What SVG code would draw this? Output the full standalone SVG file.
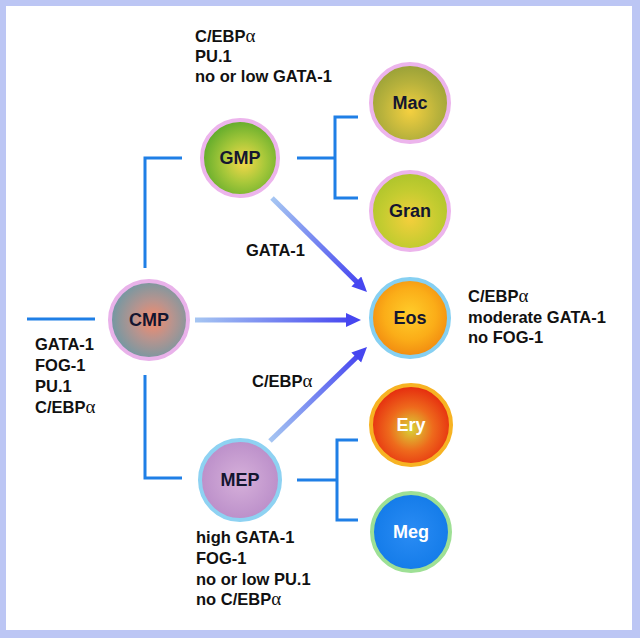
<svg xmlns="http://www.w3.org/2000/svg" width="640" height="638" viewBox="0 0 640 638">
<defs>
<style>
.lbl{font-family:"Liberation Sans",Arial,sans-serif;font-weight:bold;font-size:16.5px;fill:#111;}
.a{font-family:"Liberation Serif","Times New Roman",serif;font-weight:normal;font-size:19px;}
.nt{font-family:"Liberation Sans",Arial,sans-serif;font-weight:bold;font-size:18px;fill:#141630;text-anchor:middle;}
.wt{fill:#ffffff;}
.con{stroke:#1f7fe6;stroke-width:3;fill:none;}
.arr{stroke-width:5;fill:none;marker-end:url(#ah);}
</style>
<marker id="ah" markerUnits="userSpaceOnUse" markerWidth="16" markerHeight="16" refX="3" refY="7" orient="auto">
<path d="M0,0 L15,7 L0,14 z" fill="#4646f0"/>
</marker>
<radialGradient id="gCMP" cx="0.55" cy="0.5" r="0.55"><stop offset="0" stop-color="#f78a6a"/><stop offset="0.45" stop-color="#b8948e"/><stop offset="1" stop-color="#6f98a4"/></radialGradient>
<radialGradient id="gGMP" cx="0.55" cy="0.55" r="0.55"><stop offset="0" stop-color="#f7d84a"/><stop offset="0.5" stop-color="#a8c83a"/><stop offset="1" stop-color="#62ac2c"/></radialGradient>
<radialGradient id="gMac" cx="0.5" cy="0.6" r="0.6"><stop offset="0" stop-color="#f5d040"/><stop offset="0.6" stop-color="#b8b23c"/><stop offset="1" stop-color="#97a038"/></radialGradient>
<radialGradient id="gGran" cx="0.5" cy="0.6" r="0.6"><stop offset="0" stop-color="#f4cf3c"/><stop offset="0.6" stop-color="#c4cc30"/><stop offset="1" stop-color="#acc42c"/></radialGradient>
<radialGradient id="gEos" cx="0.5" cy="0.45" r="0.55"><stop offset="0" stop-color="#ffcd2a"/><stop offset="0.6" stop-color="#fbad18"/><stop offset="1" stop-color="#f18a10"/></radialGradient>
<radialGradient id="gEry" cx="0.5" cy="0.55" r="0.55"><stop offset="0" stop-color="#d8d438"/><stop offset="0.5" stop-color="#ee6a1c"/><stop offset="1" stop-color="#e5280e"/></radialGradient>
<radialGradient id="gMeg" cx="0.5" cy="0.5" r="0.55"><stop offset="0" stop-color="#2a8cf4"/><stop offset="1" stop-color="#127ae8"/></radialGradient>
<radialGradient id="gMEP" cx="0.5" cy="0.5" r="0.55"><stop offset="0" stop-color="#d6b0da"/><stop offset="1" stop-color="#b98cc8"/></radialGradient>
<linearGradient id="l1" gradientUnits="userSpaceOnUse" x1="272" y1="198" x2="358" y2="284"><stop offset="0" stop-color="#a6c6f2"/><stop offset="1" stop-color="#4848f0"/></linearGradient>
<linearGradient id="l2" gradientUnits="userSpaceOnUse" x1="195" y1="320" x2="349" y2="320"><stop offset="0" stop-color="#a6c6f2"/><stop offset="1" stop-color="#4848f0"/></linearGradient>
<linearGradient id="l3" gradientUnits="userSpaceOnUse" x1="270" y1="441" x2="358" y2="355"><stop offset="0" stop-color="#a6c6f2"/><stop offset="1" stop-color="#4848f0"/></linearGradient>
</defs>
<rect x="0" y="0" width="640" height="638" fill="#bcc6f4"/>
<rect x="6" y="6" width="626" height="624" fill="#ffffff"/>

<g id="connectors">
<polyline class="con" points="27,319 95,319"/>
<polyline class="con" points="182,158 145,158 145,268"/>
<polyline class="con" points="145,375 145,478 182,478"/>
<polyline class="con" points="297,158 335,158"/>
<polyline class="con" points="358,117 335,117 335,198 358,198"/>
<polyline class="con" points="297,480 337,480"/>
<polyline class="con" points="358,440 337,440 337,520 358,520"/>
<line class="arr" x1="272" y1="198" x2="358.5" y2="283.6" stroke="url(#l1)"/>
<line class="arr" x1="195" y1="320" x2="349" y2="320" stroke="url(#l2)"/>
<line class="arr" x1="270" y1="441" x2="358.4" y2="355.4" stroke="url(#l3)"/>
<text class="lbl" x="246" y="256">GATA-1</text>
<text class="lbl" x="252" y="387">C/EBP<tspan class="a">α</tspan></text>
</g>

<g id="CMP">
<circle cx="149" cy="320" r="39" fill="url(#gCMP)" stroke="#e9b2ea" stroke-width="4"/>
<text class="nt" x="149" y="326">CMP</text>
<text class="lbl" x="35" y="350">GATA-1</text>
<text class="lbl" x="35" y="371">FOG-1</text>
<text class="lbl" x="35" y="392">PU.1</text>
<text class="lbl" x="35" y="413">C/EBP<tspan class="a">α</tspan></text>
</g>

<g id="GMP">
<circle cx="240" cy="158" r="38" fill="url(#gGMP)" stroke="#ecb4ec" stroke-width="4"/>
<text class="nt" x="240" y="164">GMP</text>
<text class="lbl" x="195" y="42">C/EBP<tspan class="a">α</tspan></text>
<text class="lbl" x="195" y="62">PU.1</text>
<text class="lbl" x="195" y="82">no or low GATA-1</text>
</g>

<g id="MEP">
<circle cx="240" cy="480" r="40" fill="url(#gMEP)" stroke="#8ed2f2" stroke-width="4"/>
<text class="nt" x="240" y="486">MEP</text>
<text class="lbl" x="196" y="543">high GATA-1</text>
<text class="lbl" x="196" y="564">FOG-1</text>
<text class="lbl" x="196" y="585">no or low PU.1</text>
<text class="lbl" x="196" y="605">no C/EBP<tspan class="a">α</tspan></text>
</g>

<g id="Mac">
<circle cx="410" cy="103" r="39" fill="url(#gMac)" stroke="#ecb4ec" stroke-width="4"/>
<text class="nt" x="410" y="109">Mac</text>
</g>

<g id="Gran">
<circle cx="410" cy="211" r="39" fill="url(#gGran)" stroke="#ecb4ec" stroke-width="4"/>
<text class="nt" x="410" y="217">Gran</text>
</g>

<g id="Eos">
<circle cx="410" cy="318" r="39" fill="url(#gEos)" stroke="#86d0f2" stroke-width="4"/>
<text class="nt" x="410" y="324">Eos</text>
<text class="lbl" x="468" y="302">C/EBP<tspan class="a">α</tspan></text>
<text class="lbl" x="468" y="323">moderate GATA-1</text>
<text class="lbl" x="468" y="343">no FOG-1</text>
</g>

<g id="Ery">
<circle cx="411" cy="425" r="40" fill="url(#gEry)" stroke="#f7b323" stroke-width="4"/>
<text class="nt wt" x="411" y="431">Ery</text>
</g>

<g id="Meg">
<circle cx="411" cy="532" r="39" fill="url(#gMeg)" stroke="#9ee095" stroke-width="4"/>
<text class="nt wt" x="411" y="538">Meg</text>
</g>
</svg>
